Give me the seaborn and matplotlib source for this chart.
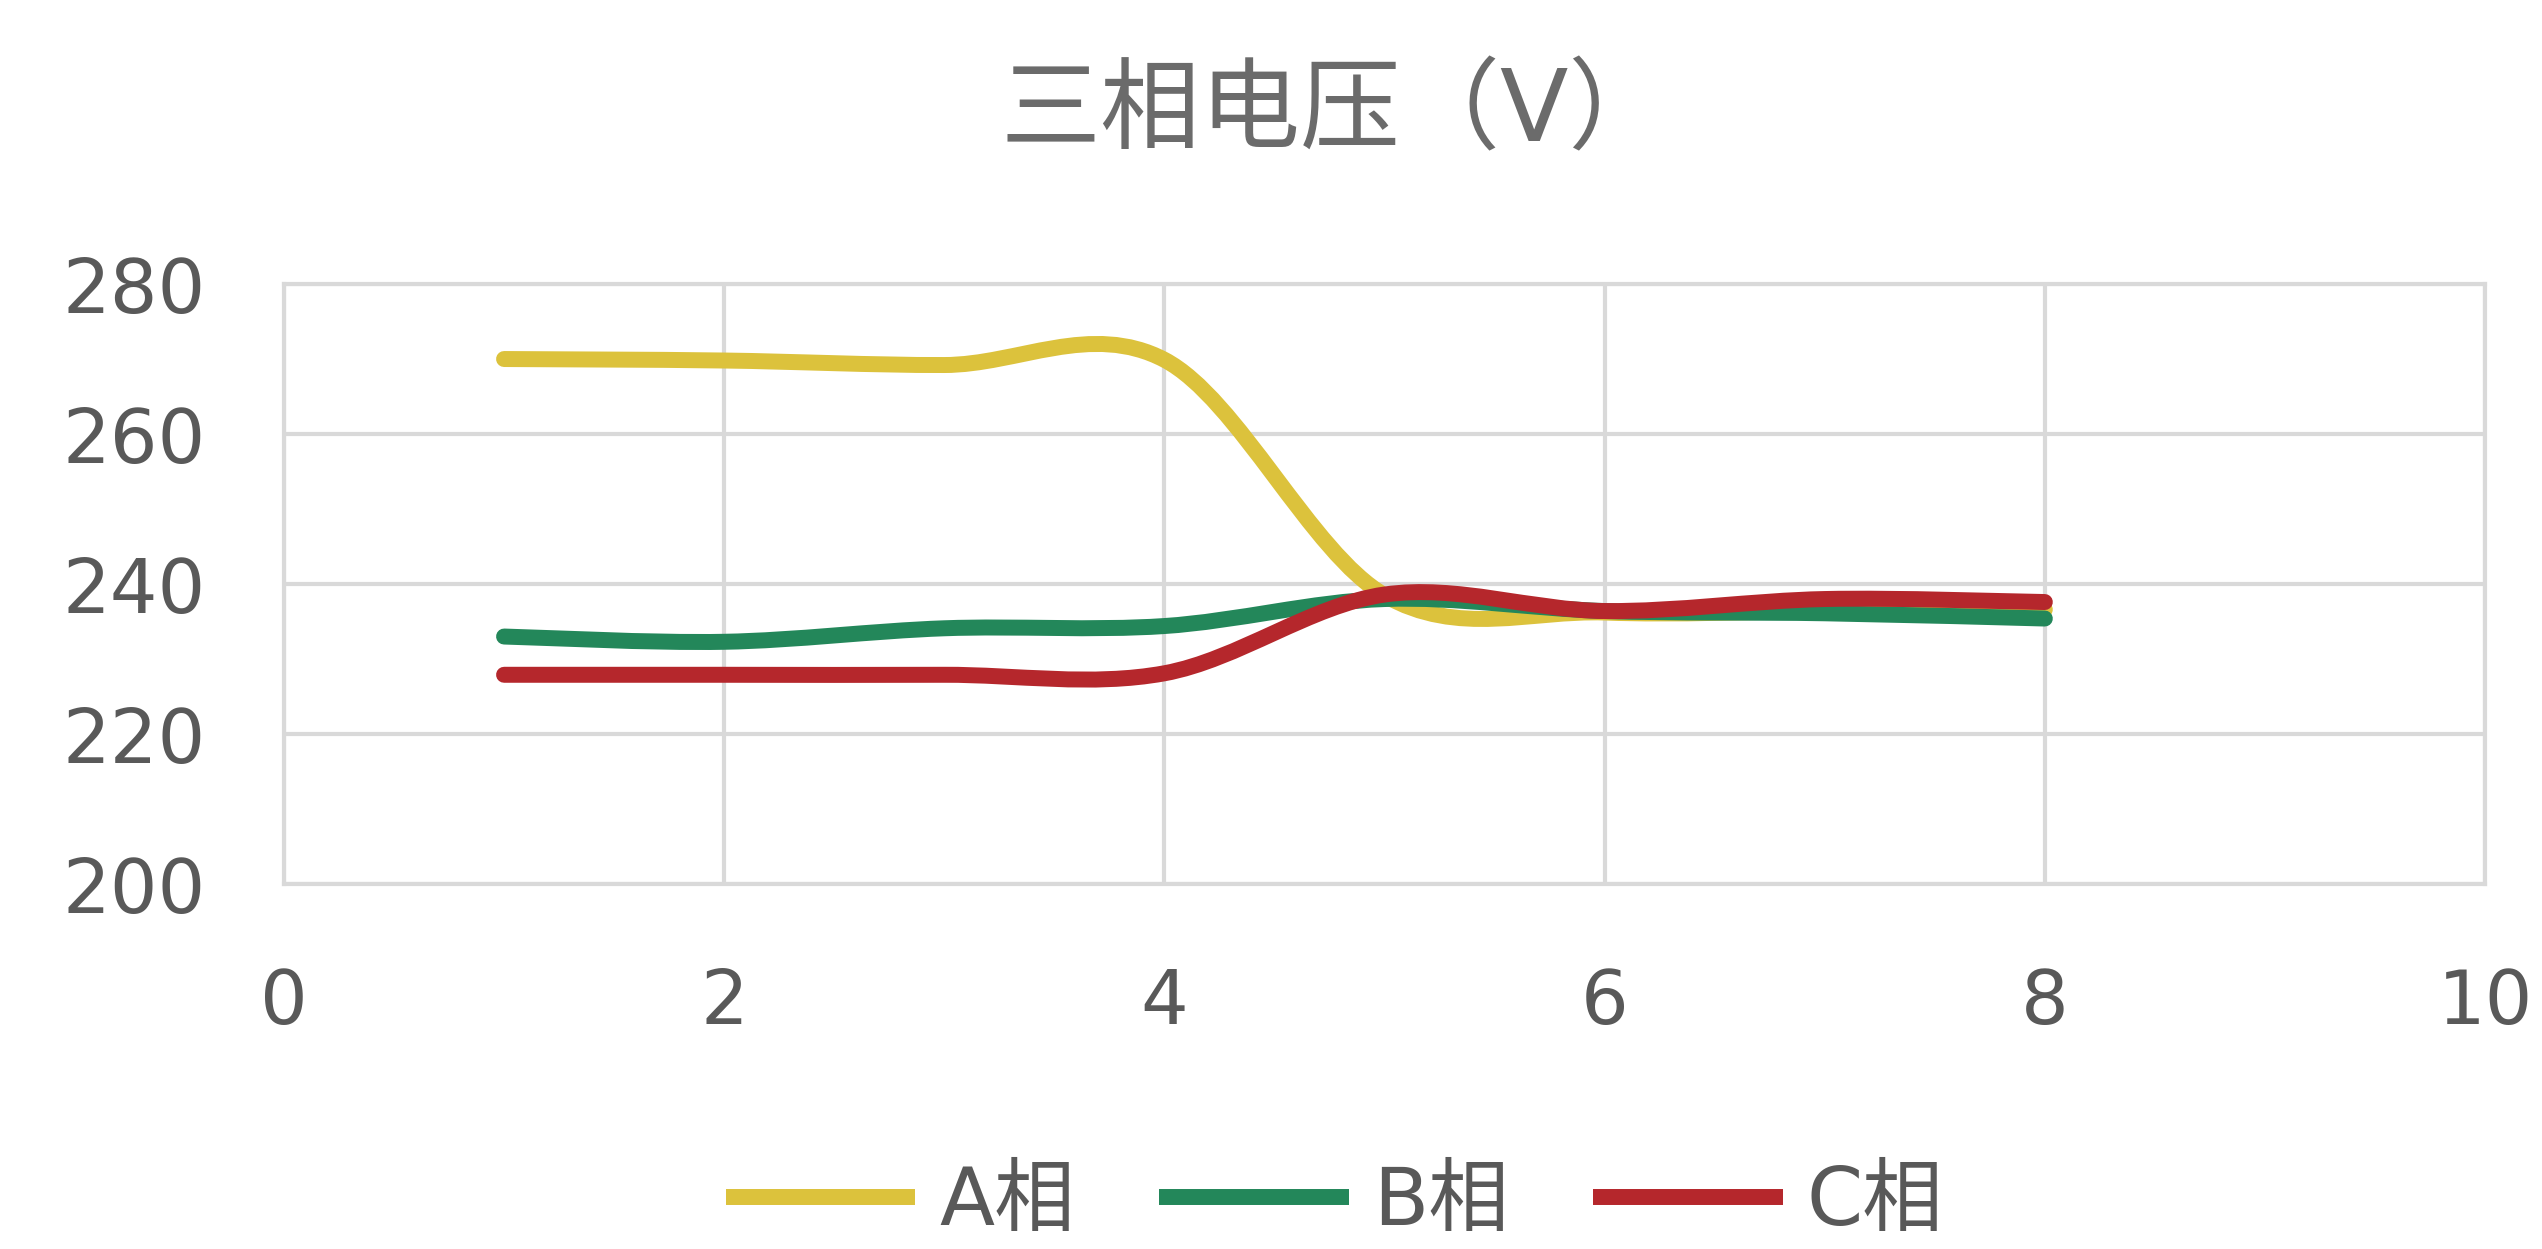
import numpy as np
import pandas as pd
import seaborn as sns
import matplotlib.pyplot as plt
from matplotlib.path import Path
from matplotlib.patches import PathPatch
from matplotlib.lines import Line2D

# values (x = sample number, y = voltage in V)
x_points = [1, 2, 3, 4, 5, 6, 7, 8]
phase_a = [270.0, 269.8, 269.2, 269.9, 238.5, 236.2, 236.4, 236.6]
phase_b = [233.0, 232.3, 234.1, 234.4, 238.0, 236.4, 236.1, 235.4]
phase_c = [227.9, 227.9, 227.9, 228.1, 238.6, 236.4, 238.0, 237.6]
series_names = ["A相", "B相", "C相"]
series_colors = ["#DCC23C", "#23875A", "#B5272C"]

x_ticks = [0, 2, 4, 6, 8, 10]
y_ticks = [200, 220, 240, 260, 280]
title = "三相电压（V）"

df = pd.DataFrame({"x": x_points, "A相": phase_a, "B相": phase_b, "C相": phase_c})

sns.set_theme(style="whitegrid")
plt.rcParams["font.family"] = ["DejaVu Sans", "Noto Sans CJK SC"]

grid_color = "#D9D9D9"
text_color = "#595959"


def smooth_path(xs, ys):
    # Excel style smoothed line: cubic bezier through every point
    pts = np.column_stack([xs, ys]).astype(float)
    n = len(pts)
    verts = [pts[0]]
    codes = [Path.MOVETO]
    for i in range(n - 1):
        p_prev = pts[i - 1] if i > 0 else pts[i]
        p_next = pts[i + 2] if i + 2 < n else pts[i + 1]
        c1 = pts[i] + (pts[i + 1] - p_prev) / 6.0
        c2 = pts[i + 1] - (p_next - pts[i]) / 6.0
        verts += [c1, c2, pts[i + 1]]
        codes += [Path.CURVE4] * 3
    return Path(verts, codes)


fig = plt.figure(figsize=(25.42, 12.49), dpi=100)
ax = fig.add_axes([0.1117, 0.2922, 0.8659, 0.4804])

palette = sns.color_palette(series_colors)
handles = []
for name, color in zip(series_names, palette):
    patch = PathPatch(smooth_path(df["x"], df[name]), facecolor="none",
                      edgecolor=color, linewidth=11.5, capstyle="round",
                      joinstyle="round", zorder=3)
    ax.add_patch(patch)
    handles.append(Line2D([0], [0], color=color, linewidth=11.5,
                          solid_capstyle="butt"))

ax.set_xlim(0, 10)
ax.set_ylim(200, 280)
ax.set_xticks(x_ticks)
ax.set_yticks(y_ticks)
ax.grid(True, color=grid_color, linewidth=3)
for spine in ax.spines.values():
    spine.set_color(grid_color)
    spine.set_linewidth(3)
ax.tick_params(axis="both", length=0, labelsize=54, labelcolor=text_color)
ax.tick_params(axis="y", pad=56)
ax.tick_params(axis="x", pad=60)
ax.set_xlabel("")
ax.set_ylabel("")

fig.text(0.525, 0.909, title, ha="center", va="center",
         fontsize=72, color="#6B6B6B")

leg = fig.legend(handles, series_names, loc="center",
                 bbox_to_anchor=(0.525, 0.037), ncol=3, frameon=False,
                 fontsize=58, handlelength=2.35, handletextpad=0.3,
                 columnspacing=1.05)
for t in leg.get_texts():
    t.set_color(text_color)

fig.savefig("out.png", dpi=100, facecolor="white")
